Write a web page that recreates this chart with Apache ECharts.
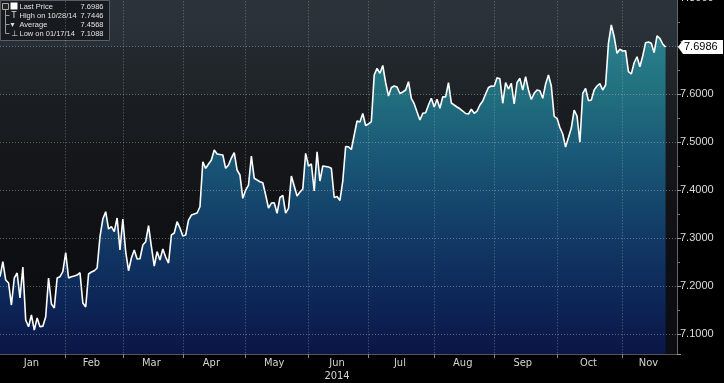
<!DOCTYPE html>
<html><head><meta charset="utf-8">
<script src="https://cdn.jsdelivr.net/npm/echarts@6/dist/echarts.min.js"></script>
<style>html,body{margin:0;padding:0;background:#000}#c{width:724px;height:383px}</style>
</head><body><div id="c"></div>
<script>
const monthNames = ['Jan','Feb','Mar','Apr','May','Jun','Jul','Aug','Sep','Oct','Nov'];
const yearLabel = '2014';
const yTickLabels = ['7.1000','7.2000','7.3000','7.4000','7.5000','7.6000','7.7000','7.8000'];
const legendLabels = ['Last Price','High on 10/28/14','Average','Low on 01/17/14'];
const legendValues = ['7.6986','7.7446','7.4568','7.1088'];
const prices = [
7.2200,7.2512,7.2131,7.2069,7.1610,7.2173,7.2277,7.1756,7.2402,7.1298,
7.1158,7.1402,7.1088,7.1340,7.1158,7.1170,7.1367,7.2173,7.1631,7.1548,
7.2173,7.2200,7.2304,7.2700,7.2173,7.2200,7.2215,7.2235,7.2283,7.1652,
7.1569,7.2256,7.2298,7.2325,7.2381,7.3033,7.3402,7.3554,7.3194,7.3242,
7.3138,7.3423,7.2756,7.3402,7.2721,7.2325,7.2590,7.2756,7.2569,7.2575,
7.2860,7.2929,7.3263,7.2825,7.2423,7.2721,7.2548,7.2777,7.2610,7.2485,
7.3069,7.3110,7.3346,7.3215,7.3048,7.3069,7.3381,7.3485,7.3506,7.3527,
7.3658,7.4596,7.4458,7.4548,7.4631,7.4840,7.4756,7.4746,7.4735,7.4458,
7.4527,7.4673,7.4783,7.4423,7.4319,7.3833,7.4006,7.4110,7.4715,7.4250,
7.4215,7.4179,7.4158,7.3902,7.3631,7.3735,7.3742,7.3521,7.3850,7.3892,
7.3527,7.3625,7.4298,7.4090,7.3881,7.3965,7.4027,7.4771,7.4506,7.4548,
7.3985,7.4804,7.4194,7.4506,7.4496,7.4485,7.4458,7.3850,7.3871,7.3788,
7.4194,7.4913,7.4908,7.4850,7.5152,7.5444,7.5423,7.5600,7.5350,7.5381,
7.5433,7.6402,7.6542,7.6438,7.6600,7.6246,7.5965,7.6142,7.6173,7.6152,
7.6017,7.6048,7.6090,7.6263,7.5917,7.5804,7.5631,7.5465,7.5604,7.5617,
7.5777,7.5917,7.5735,7.5896,7.5708,7.5950,7.5945,7.6242,7.5819,7.5777,
7.5735,7.5698,7.5652,7.5600,7.5590,7.5688,7.5604,7.5652,7.5777,7.5860,
7.6006,7.6142,7.6173,7.6167,7.6344,7.6323,7.5813,7.6246,7.6110,7.6229,
7.5798,7.6246,7.6333,7.6090,7.6367,7.6090,7.5892,7.6021,7.6090,7.6075,
7.5917,7.6215,7.6402,7.6173,7.5542,7.5500,7.5308,7.5173,7.4902,7.5100,
7.5298,7.5673,7.5548,7.5002,7.6021,7.6125,7.5867,7.5881,7.6090,7.6173,
7.6221,7.6090,7.6194,7.7063,7.7446,7.7200,7.6854,7.6938,7.6902,7.6908,
7.6471,7.6423,7.6658,7.6783,7.6575,7.6798,7.7075,7.7090,7.7063,7.6867,
7.7215,7.7167,7.7048,7.6986
];

// weekday categories Jan 1 - Nov 28, 2014
const dates = [];
for (let d = new Date(Date.UTC(2014,0,1)); d.getTime() <= Date.UTC(2014,10,28); d.setUTCDate(d.getUTCDate()+1)) {
  const wd = d.getUTCDay(); if (wd === 0 || wd === 6) continue;
  dates.push(d.toISOString().slice(0,10));
}
const monthStarts = [];
dates.forEach((s,i) => { if (i === 0 || s.slice(5,7) !== dates[i-1].slice(5,7)) monthStarts.push(i); });
const monthStartSet = new Set(monthStarts.filter(i => i > 0));
const labelIdx = {};
monthStarts.forEach((s,k) => {
  const e = k + 1 < monthStarts.length ? monthStarts[k+1] : dates.length;
  labelIdx[Math.floor((s + e - 1) / 2)] = k;
});
const seriesData = dates.map((d,i) => i < prices.length ? prices[i] : null);

const chart = echarts.init(document.getElementById('c'));
const PLOT_BOTTOM = 354;
chart.setOption({
  backgroundColor: '#000',
  animation: false,
  grid: {
    left: 0, right: 47, top: -1.7, bottom: 383 - PLOT_BOTTOM,
    containLabel: false, outerBoundsMode: 'none',
    show: true, borderWidth: 0,
    backgroundColor: {
      type: 'linear', x: 0, y: 0, x2: 0, y2: 1,
      colorStops: [
        {offset: 0, color: '#2c343a'}, {offset: 0.135, color: '#283037'},
        {offset: 0.136, color: '#22282d'}, {offset: 0.27, color: '#1f2428'},
        {offset: 0.271, color: '#1a1e22'}, {offset: 0.4, color: '#181b1f'},
        {offset: 0.401, color: '#15171b'}, {offset: 0.54, color: '#131519'},
        {offset: 0.541, color: '#111317'}, {offset: 0.68, color: '#101115'},
        {offset: 0.681, color: '#0e0f13'}, {offset: 1, color: '#0c0d12'}
      ]
    }
  },
  xAxis: {
    type: 'category', data: dates, boundaryGap: false, z: 3,
    axisLine: {show: true, lineStyle: {color: '#555'}},
    axisTick: {show: true, length: 4, lineStyle: {color: '#888'},
      interval: (i) => monthStartSet.has(i)},
    axisLabel: {
      interval: (i) => labelIdx[i] !== undefined,
      formatter: (v, i) => {
        const k = labelIdx[i];
        if (k === undefined) return '';
        return monthNames[k] === 'Jun' ? monthNames[k] + '\n' + yearLabel : monthNames[k];
      },
      color: '#d4d4d4', fontSize: 11, lineHeight: 13, margin: 3,
      fontFamily: "'Liberation Sans Narrow','DejaVu Sans Condensed',sans-serif"
    },
    splitLine: {show: true, interval: (i) => monthStartSet.has(i),
      lineStyle: {color: 'rgba(190,190,190,0.45)', type: [1, 2], width: 1}}
  },
  yAxis: {
    type: 'value', position: 'right', min: 7.059, max: 7.8,
    splitNumber: 7, minInterval: 0.1, maxInterval: 0.1, z: 3,
    axisLine: {show: true, lineStyle: {color: '#666'}},
    axisTick: {show: true, length: 4, lineStyle: {color: '#999'}},
    minorTick: {show: true, splitNumber: 2, length: 3, lineStyle: {color: '#777'}},
    axisLabel: {
      color: '#dcdcdc', fontSize: 11, margin: 3,
      fontFamily: "'Liberation Sans','Arial',sans-serif",
      formatter: (v) => { const s = v.toFixed(4); return yTickLabels.includes(s) ? s : ''; }
    },
    splitLine: {show: true, lineStyle: {color: 'rgba(190,190,190,0.45)', type: [1, 2], width: 1}}
  },
  series: [{
    type: 'line', data: seriesData, showSymbol: false, symbol: 'none', z: 2,
    lineStyle: {color: '#ffffff', width: 1.6},
    areaStyle: {
      color: {
        type: 'linear', x: 0, y: 0, x2: 0, y2: PLOT_BOTTOM, global: true,
        colorStops: [
          {offset: 0, color: '#2f8b99'}, {offset: 0.25, color: '#22717f'},
          {offset: 0.45, color: '#195676'}, {offset: 0.65, color: '#123c66'},
          {offset: 0.85, color: '#0d2657'}, {offset: 1, color: '#0a1646'}
        ]
      },
      opacity: 1
    }
  }]
});

// Last price tag on the right axis and the legend box
const last = prices[prices.length - 1];
const ty = chart.convertToPixel({yAxisIndex: 0}, last);
const tx = 724 - 47;
const LF = '7.5px Liberation Sans';
const legendChildren = [
  {type: 'rect', shape: {x: 0, y: 0, width: 109, height: 40},
   style: {fill: 'rgba(22,25,29,0.92)', stroke: '#5a5f66', lineWidth: 1}},
  {type: 'polyline', shape: {points: [[5,6],[5,33]]}, style: {stroke: '#999', lineWidth: 1}},
  {type: 'polyline', shape: {points: [[5,15],[9,15]]}, style: {stroke: '#999', lineWidth: 1}},
  {type: 'polyline', shape: {points: [[5,24],[9,24]]}, style: {stroke: '#999', lineWidth: 1}},
  {type: 'polyline', shape: {points: [[5,33],[9,33]]}, style: {stroke: '#999', lineWidth: 1}},
  {type: 'rect', shape: {x: 2, y: 3, width: 6, height: 6}, style: {fill: '#222', stroke: '#aaa', lineWidth: 1}},
  {type: 'rect', shape: {x: 10, y: 2, width: 7, height: 7}, style: {fill: '#fff'}},
  {type: 'text', x: 11, y: 11, style: {text: 'T', fill: '#ddd', font: '8px DejaVu Sans'}},
  {type: 'text', x: 10, y: 20, style: {text: '\u25BE', fill: '#ddd', font: '8px DejaVu Sans'}},
  {type: 'text', x: 11, y: 29, style: {text: '\u22A5', fill: '#ddd', font: '8px DejaVu Sans'}}
];
legendLabels.forEach((t, k) => {
  legendChildren.push({type: 'text', x: 19, y: 2 + k * 9,
    style: {text: t, fill: '#e0e0e0', font: LF}});
  legendChildren.push({type: 'text', x: 103, y: 2 + k * 9,
    style: {text: legendValues[k], fill: '#e0e0e0', font: LF, align: 'right'}});
});

chart.setOption({
  graphic: [
    {type: 'group', left: 0, top: 0, z: 20, children: legendChildren},
    {type: 'polygon', z: 20,
     shape: {points: [[tx + 1, ty], [tx + 6, ty - 7], [tx + 46, ty - 7], [tx + 46, ty + 7], [tx + 6, ty + 7]]},
     style: {fill: '#ffffff'}},
    {type: 'text', z: 21, x: tx + 7, y: ty - 6,
     style: {text: last.toFixed(4), fill: '#000', font: '11px Liberation Sans'}}
  ]
});
</script></body></html>
